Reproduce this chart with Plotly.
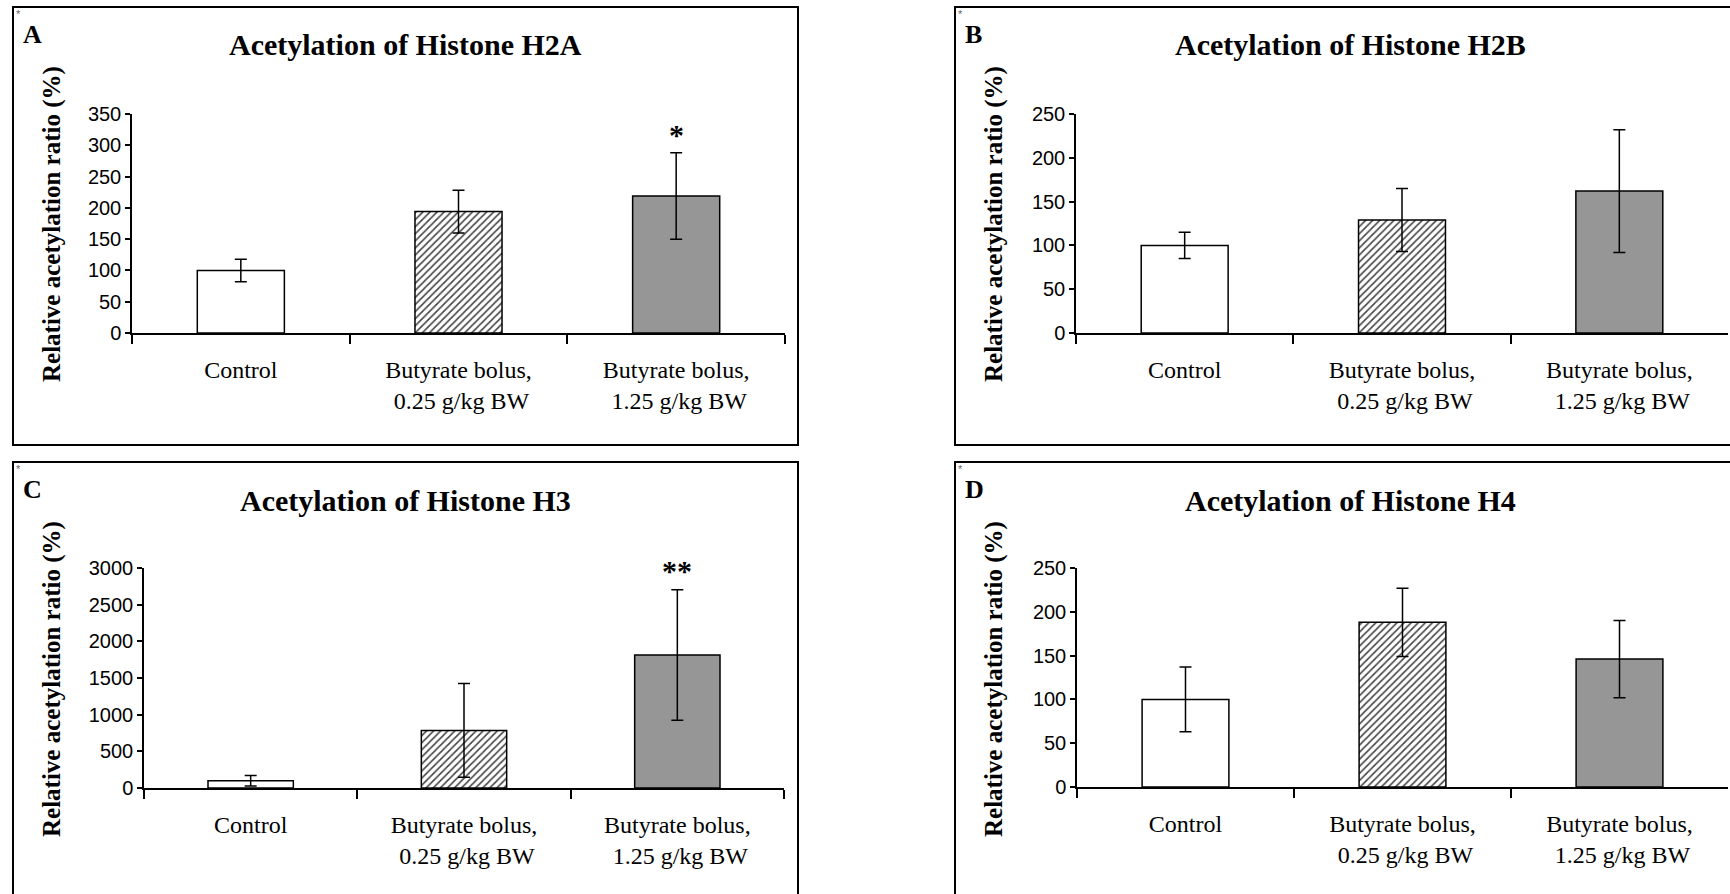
import plotly.graph_objects as go

W, H = 1730, 894

categories = ["Control", "Butyrate bolus 0.25", "Butyrate bolus 1.25"]
tick_labels = ["Control", "Butyrate bolus,<br> 0.25 g/kg BW", "Butyrate bolus,<br> 1.25 g/kg BW"]

h2a_mean = [100, 194, 219]
h2a_err = [18, 34, 69]
h2b_mean = [100, 129, 162]
h2b_err = [15, 36, 70]
h3_mean = [100, 785, 1815]
h3_err = [72, 640, 890]
h4_mean = [100, 188, 146]
h4_err = [37, 39, 44]

titles = ["Acetylation of Histone H2A", "Acetylation of Histone H2B",
          "Acetylation of Histone H3", "Acetylation of Histone H4"]
letters = ["A", "B", "C", "D"]
y_ranges = [[0, 350], [0, 250], [0, 3000], [0, 250]]
y_dticks = [50, 50, 500, 50]
signif = [("*", 2, 318), None, ("**", 2, 2960), None]
y_title = "Relative acetylation ratio (%)"

SERIF = "Liberation Serif, Times New Roman, serif"
SANS = "Liberation Sans, Arial, sans-serif"

# pixel layout of the four panels
panels = [
    dict(box=(13, 7, 798, 445), x0=132, x1=785, ytop=114, ybot=333),
    dict(box=(955, 7, 1745, 445), x0=1076, x1=1728, ytop=114, ybot=333),
    dict(box=(13, 462, 798, 905), x0=144, x1=784, ytop=568, ybot=788),
    dict(box=(955, 462, 1745, 905), x0=1077, x1=1728, ytop=568, ybot=787),
]

fill_colors = ["white", "white", "#969696"]
pattern_shapes = ["", "/", ""]

means = [h2a_mean, h2b_mean, h3_mean, h4_mean]
errs = [h2a_err, h2b_err, h3_err, h4_err]

fig = go.Figure()
layout = dict(template="none", width=W, height=H, autosize=False,
              margin=dict(l=0, r=0, t=0, b=0, pad=0),
              paper_bgcolor="white", plot_bgcolor="white", showlegend=False)
shapes = []
annotations = []

def px(x):
    return x / W

def py(y):
    return 1 - y / H

for i, p in enumerate(panels):
    n = "" if i == 0 else str(i + 1)
    fig.add_trace(go.Bar(
        x=categories, y=means[i],
        xaxis="x" + n, yaxis="y" + n,
        marker=dict(color=fill_colors, line=dict(color="black", width=1.5),
                    pattern=dict(shape=pattern_shapes, fgcolor="#939393",
                                 fillmode="overlay", fgopacity=1,
                                 size=5, solidity=0.32)),
        error_y=dict(type="data", array=errs[i], color="black",
                     thickness=1.5, width=6),
        width=0.4,
    ))
    layout["xaxis" + n] = dict(
        domain=[px(p["x0"]), px(p["x1"])], anchor="y" + n, automargin=False,
        type="category", categoryorder="array", categoryarray=categories,
        tickmode="array", tickvals=categories, ticktext=tick_labels,
        tickson="boundaries", ticks="outside", ticklen=9, tickwidth=1.5,
        tickcolor="black", showline=True, linecolor="black", linewidth=1.5,
        showgrid=False, zeroline=False, ticklabelstandoff=14,
        tickfont=dict(family=SERIF, size=24, color="black"),
        range=[-0.5, 2.5], fixedrange=True)
    layout["yaxis" + n] = dict(
        domain=[py(p["ybot"]), py(p["ytop"])], anchor="x" + n, automargin=False,
        range=y_ranges[i], dtick=y_dticks[i], tick0=0,
        ticks="outside", ticklen=5, tickwidth=1.5, tickcolor="black",
        showline=True, linecolor="black", linewidth=1.5,
        showgrid=False, zeroline=False,
        tickfont=dict(family=SANS, size=20, color="black"), fixedrange=True)

    bx0, by0, bx1, by1 = p["box"]
    shapes.append(dict(type="rect", xref="paper", yref="paper",
                       x0=px(bx0), x1=px(bx1), y0=py(by1), y1=py(by0),
                       line=dict(color="black", width=2), layer="below"))
    # title
    annotations.append(dict(text="<b>%s</b>" % titles[i], xref="paper", yref="paper",
                            x=px((bx0 + bx1) / 2), y=py(by0 + 38), showarrow=False,
                            xanchor="center", yanchor="middle",
                            font=dict(family=SERIF, size=30, color="black")))
    # panel letter
    annotations.append(dict(text="<b>%s</b>" % letters[i], xref="paper", yref="paper",
                            x=px(bx0 + 8), y=py(by0 + 27), showarrow=False,
                            xanchor="left", yanchor="middle",
                            font=dict(family=SERIF, size=26, color="black")))
    # tiny corner mark
    annotations.append(dict(text="*", xref="paper", yref="paper",
                            x=px(bx0 + 1), y=py(by0 + 7), showarrow=False,
                            xanchor="left", yanchor="middle",
                            font=dict(family=SANS, size=11, color="#666666")))
    # y title
    annotations.append(dict(text="<b>%s</b>" % y_title, xref="paper", yref="paper",
                            x=px(bx0 + 39), y=py(by0 + 217), showarrow=False,
                            textangle=-90, xanchor="center", yanchor="middle",
                            font=dict(family=SERIF, size=25, color="black")))
    if signif[i] is not None:
        txt, ci, yv = signif[i]
        annotations.append(dict(text="<b>%s</b>" % txt, xref="x" + n, yref="y" + n,
                                x=categories[ci], y=yv, showarrow=False,
                                xanchor="center", yanchor="middle",
                                font=dict(family=SERIF, size=30, color="black")))

layout["shapes"] = shapes
layout["annotations"] = annotations
fig.update_layout(**layout)
fig.write_html("out.html", config={"displayModeBar": False},
               post_script="document.body.style.margin='0px';"
                           "document.body.style.overflow='hidden';")
